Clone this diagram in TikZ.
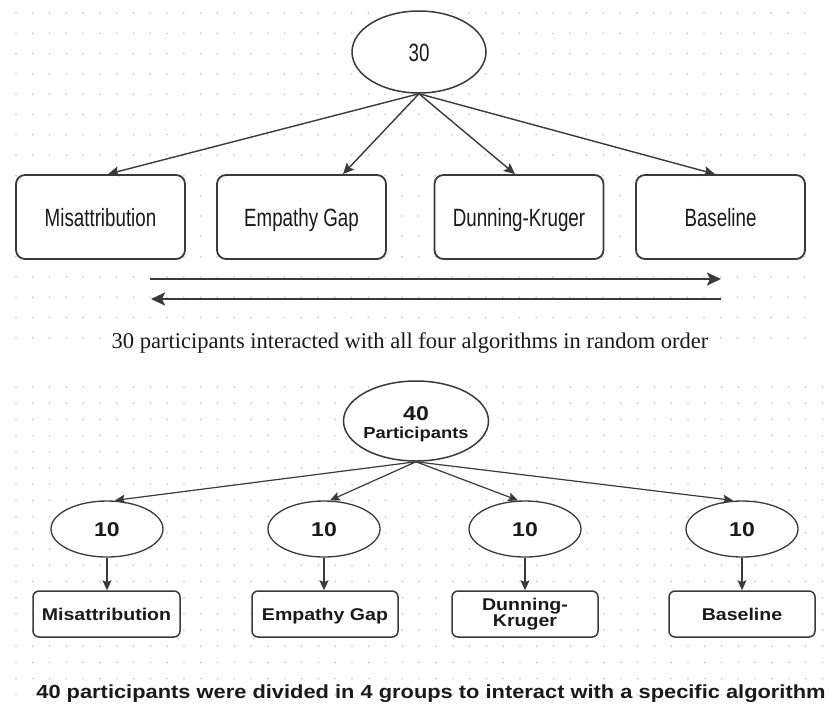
\documentclass[tikz,border=0pt]{standalone}
\usepackage{fontspec}
\setmainfont{Liberation Serif}
\newfontfamily\condsans[FakeStretch=0.75]{Liberation Sans}
\newfontfamily\widesans[FakeStretch=1.15]{Liberation Sans}
\usetikzlibrary{shapes.geometric,arrows.meta}

\definecolor{dotc}{HTML}{C8C8C8}
\definecolor{linec}{HTML}{3A3A3A}
\definecolor{textc}{HTML}{1A1A1A}

\tikzset{
  bigoval/.style={ellipse, draw=linec, line width=1.5pt, fill=white, inner sep=0pt,
    text=textc},
  bigbox/.style={rectangle, rounded corners=9pt, draw=linec, line width=1.8pt, fill=white,
    minimum width=169pt, minimum height=84pt, inner sep=0pt, text=textc,
    text height=18pt, text depth=0pt,
    font=\condsans\fontsize{25}{30}\selectfont},
  smalloval/.style={ellipse, draw=linec, line width=1.3pt, fill=white, inner sep=0pt,
    minimum width=112pt, minimum height=56pt, text=textc,
    text height=14pt, text depth=0pt,
    font=\widesans\bfseries\fontsize{20}{22}\selectfont},
  smallbox/.style={rectangle, rounded corners=6pt, draw=linec, line width=1.5pt, fill=white,
    minimum width=146pt, minimum height=46pt, inner sep=0pt, text=textc, align=center,
    font=\widesans\bfseries\fontsize{17}{16}\selectfont},
  oneline/.style={text height=12pt, text depth=0pt},
  inlabel/.style={inner sep=0pt, text=textc},
  toparrow/.style={draw=linec, line width=1.4pt, -{Stealth[length=11pt,width=10pt,inset=2pt]}},
  wayarrow/.style={draw=linec, line width=2.2pt, -{Stealth[length=14pt,width=13pt,inset=3pt]}},
  botarrow/.style={draw=linec, line width=1.2pt, -{Stealth[length=10pt,width=9pt,inset=2pt]}},
  caption/.style={text=textc, inner sep=0pt, anchor=base},
}

\begin{document}
\begin{tikzpicture}[x=1pt,y=-1pt]
\useasboundingbox (0,0) rectangle (829,705);
\fill[white] (0,0) rectangle (829,705);

% dotted background grid, upper panel
\foreach \i in {0,...,47}
  \foreach \j in {0,...,16}
    \fill[dotc] (16+\i*16.78, 13+\j*20.3) circle[radius=0.9pt];
% dotted background grid, lower panel
\foreach \i in {0,...,48}
  \foreach \j in {0,...,19}
    \fill[dotc] (16+\i*16.8, 387+\j*16.2) circle[radius=0.9pt];

% ---- upper panel: within-subject design ----
\node[bigoval, minimum width=134pt, minimum height=82pt,
      text height=18pt, text depth=0pt,
      font=\condsans\fontsize{25}{30}\selectfont] (e30) at (419,52) {30};

\node[bigbox] (mis) at (100.5,217) {Misattribution};
\node[bigbox] (emp) at (301.5,217) {Empathy Gap};
\node[bigbox] (dun) at (519,217)   {Dunning-Kruger};
\node[bigbox] (bas) at (720.5,217) {Baseline};

\draw[toparrow] (e30.south) -- ([xshift=7.5pt]mis.north);
\draw[toparrow] (e30.south) -- ([xshift=41.5pt]emp.north);
\draw[toparrow] (e30.south) -- ([xshift=-4pt]dun.north);
\draw[toparrow] (e30.south) -- ([xshift=-5.5pt]bas.north);

\coordinate (fwdA) at (150,279);
\coordinate (fwdB) at (721,279);
\coordinate (bckA) at (721,299);
\coordinate (bckB) at (151,299);
\draw[wayarrow] (fwdA) -- (fwdB);
\draw[wayarrow] (bckA) -- (bckB);

\node[caption, font=\fontsize{22.5}{26}\selectfont] (cap1) at (410,348)
  {30 participants interacted with all four algorithms in random order};

% ---- lower panel: between-subject design ----
\node[bigoval, minimum width=145pt, minimum height=80pt] (e40) at (416,421) {};
\node[inlabel, anchor=base, font=\widesans\bfseries\fontsize{20}{22}\selectfont]
  (n40) at (416,420) {40};
\node[inlabel, anchor=base, font=\widesans\bfseries\fontsize{16}{18}\selectfont]
  (npart) at (416,438) {Participants};

\node[smalloval] (g1) at (107,529) {10};
\node[smalloval] (g2) at (324,529) {10};
\node[smalloval] (g3) at (525,529) {10};
\node[smalloval] (g4) at (742,529) {10};

\draw[botarrow] (e40.south) -- ([xshift=8pt]g1.north);
\draw[botarrow] (e40.south) -- ([xshift=6pt]g2.north);
\draw[botarrow] (e40.south) -- ([xshift=-7pt]g3.north);
\draw[botarrow] (e40.south) -- ([xshift=-9pt]g4.north);

\node[smallbox, oneline, minimum width=147pt] (bmis) at (106.5,614) {Misattribution};
\node[smallbox, oneline] (bemp) at (325,614) {Empathy Gap};
\node[smallbox] (bdun) at (525,614) {Dunning-\\Kruger};
\node[smallbox, oneline] (bbas) at (742,614) {Baseline};

\draw[botarrow] (g1.south) -- (g1.south |- bmis.north);
\draw[botarrow] (g2.south) -- (g2.south |- bemp.north);
\draw[botarrow] (g3.south) -- (g3.south |- bdun.north);
\draw[botarrow] (g4.south) -- (g4.south |- bbas.north);

\node[caption, font=\widesans\bfseries\fontsize{19}{22}\selectfont] (cap2) at (431,698)
  {40 participants were divided in 4 groups to interact with a specific algorithm};
\end{tikzpicture}
\end{document}
